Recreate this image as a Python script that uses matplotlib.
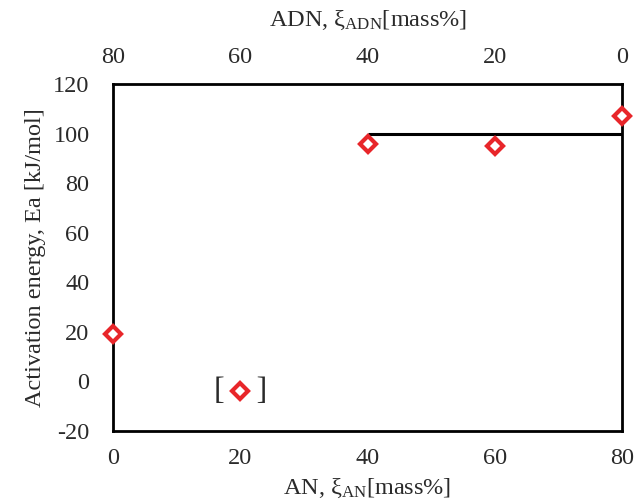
import matplotlib
matplotlib.use("Agg")
import matplotlib.pyplot as plt

# data
an_mass = [0, 20, 40, 60, 80]
ea = [19, -4, 96, 95, 107]
ref_level = 100
ref_from, ref_to = 40, 80
x_ticks = [0, 20, 40, 60, 80]
y_ticks = [-20, 0, 20, 40, 60, 80, 100, 120]

plt.rcParams['font.family'] = ['Liberation Serif', 'DejaVu Serif']
plt.rcParams['mathtext.fontset'] = 'custom'
plt.rcParams['mathtext.rm'] = 'Liberation Serif'
plt.rcParams['mathtext.it'] = 'Liberation Serif:italic'
plt.rcParams['axes.unicode_minus'] = False

fs = 17.5
txt = '#2a2a2a'

fig = plt.figure(figsize=(6.36, 5.04), dpi=100)
ax = fig.add_axes([0.178, 0.145, 0.8, 0.688])

ax.hlines(ref_level, ref_from, ref_to, color='black', lw=2.2, zorder=2)
ax.plot(an_mass, ea, ls='none', marker='D', ms=8.5, mfc='white',
        mec='#e8262a', mew=3, zorder=3, clip_on=False)

# brackets round the doubtful point
ax.text(an_mass[1], ea[1], '[    ]', ha='center', va='center',
        fontsize=23, color=txt, fontweight='light')

ax.set_xlim(0, 80)
ax.set_ylim(-20, 120)
ax.set_xticks(x_ticks)
ax.set_yticks(y_ticks)
ax.tick_params(axis='y', length=0, labelsize=fs, colors=txt, pad=17)
ax.tick_params(axis='x', length=0, labelsize=fs, colors=txt, pad=12)
for s in ax.spines.values():
    s.set_linewidth(2)
ax.set_xlabel(r'AN, ξ$_{\mathrm{AN}}$[mass%]', fontsize=fs, labelpad=6, color=txt)
ax.set_ylabel('Activation energy, Ea [kJ/mol]', fontsize=fs, labelpad=5, color=txt)

top = ax.secondary_xaxis('top', functions=(lambda v: 80 - v, lambda v: 80 - v))
top.set_xticks(x_ticks)
top.tick_params(length=0, labelsize=fs, colors=txt, pad=12)
top.set_xlabel(r'ADN, ξ$_{\mathrm{ADN}}$[mass%]', fontsize=fs, labelpad=15, color=txt)

fig.savefig('out.png', dpi=100)
